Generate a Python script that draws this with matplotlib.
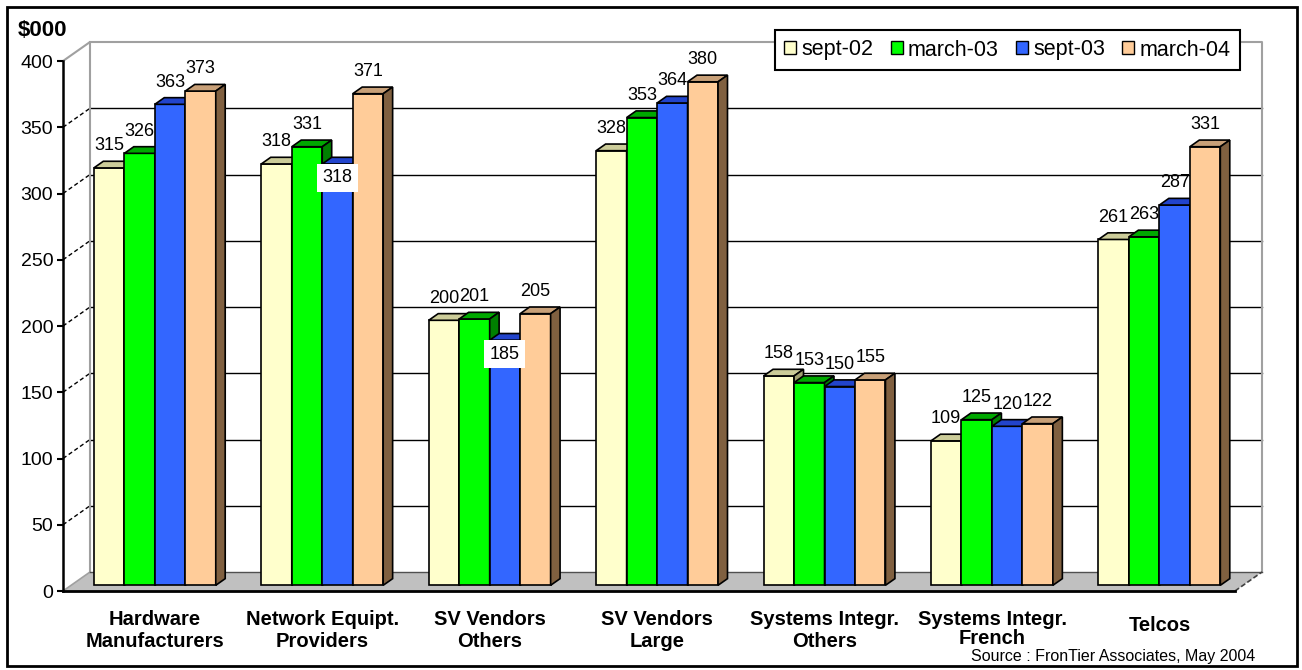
import numpy as np
import matplotlib
matplotlib.use('Agg')
import matplotlib.pyplot as plt
from matplotlib.patches import Polygon, Patch, Rectangle

plt.rcParams['font.family'] = ['Liberation Sans', 'DejaVu Sans']

# data
categories = ['Hardware\nManufacturers', 'Network Equipt.\nProviders', 'SV Vendors\nOthers',
              'SV Vendors\nLarge', 'Systems Integr.\nOthers', 'Systems Integr.\nFrench', 'Telcos']
series_names = ['sept-02', 'march-03', 'sept-03', 'march-04']
sept02 = [315, 318, 200, 328, 158, 109, 261]
march03 = [326, 331, 201, 353, 153, 125, 263]
sept03 = [363, 318, 185, 364, 150, 120, 287]
march04 = [373, 371, 205, 380, 155, 122, 331]
yticks = [0, 50, 100, 150, 200, 250, 300, 350, 400]
# labels that sit inside the bar on a white box: (series, group)
inside_labels = [(2, 1), (2, 2)]

values = [sept02, march03, sept03, march04]
front_col = ['#FFFFCC', '#00FF00', '#3366FF', '#FFCC99']
top_col = ['#CCCC99', '#00A800', '#2244CC', '#C8A078']
side_col = ['#A0A070', '#008000', '#1A3399', '#806040']

W, H = 1302, 670
fig = plt.figure(figsize=(W / 100, H / 100), dpi=100)
ax = fig.add_axes([63 / W, 79 / H, 1172 / W, 530 / H])
x0, x1 = -0.5, 6.5
ax.set_xlim(x0, x1)
ax.set_ylim(0, 400)

# depth of the 3d box in data units
DX = 27 / (1172 / 7)
DY = 19 / (530 / 400)
f0, fd = 0.3, 0.35   # bar front depth, bar thickness
bw = 0.182

# back wall + floor
ax.add_patch(Polygon([(x0, 0), (x1, 0), (x1 + DX, DY), (x0 + DX, DY)], closed=True,
                     fc='#C0C0C0', ec='none', zorder=1, clip_on=False))
for v in yticks[1:-1]:
    ax.plot([x0 + DX, x1 + DX], [v + DY, v + DY], color='black', lw=1, zorder=1, clip_on=False)
    ax.plot([x0, x0 + DX], [v, v + DY], color='black', lw=1, ls=(0, (3, 2)), zorder=1, clip_on=False)
gray = '#A0A0A0'
ax.plot([x0 + DX, x1 + DX, x1 + DX], [400 + DY, 400 + DY, DY], color=gray, lw=1.5, zorder=1, clip_on=False)
ax.plot([x0, x0 + DX, x0 + DX], [400, 400 + DY, DY], color=gray, lw=1.5, zorder=1, clip_on=False)
ax.plot([x0, x0 + DX], [0, DY], color=gray, lw=1.2, zorder=1, clip_on=False)
ax.plot([x0 + DX, x1 + DX], [DY, DY], color='#505050', lw=1, zorder=1, clip_on=False)
ax.plot([x1, x1 + DX], [0, DY], color='#404040', lw=1.2, ls=(0, (3, 1.5)), zorder=1, clip_on=False)

# bars
bdx, bdy = fd * DX, fd * DY
b = f0 * DY
for i in range(len(categories)):
    for j in range(4):
        v = values[j][i]
        xl = i - 2 * bw + j * bw + f0 * DX
        z = 3 + i * 4 + j
        ax.add_patch(Polygon([(xl, b), (xl + bw, b), (xl + bw, b + v), (xl, b + v)],
                             fc=front_col[j], ec='black', lw=1.2, zorder=z, clip_on=False))
        ax.add_patch(Polygon([(xl, b + v), (xl + bw, b + v), (xl + bw + bdx, b + v + bdy), (xl + bdx, b + v + bdy)],
                             fc=top_col[j], ec='black', lw=1.2, zorder=z, clip_on=False))
        ax.add_patch(Polygon([(xl + bw, b), (xl + bw + bdx, b + bdy), (xl + bw + bdx, b + v + bdy), (xl + bw, b + v)],
                             fc=side_col[j], ec='black', lw=1.2, zorder=z, clip_on=False))
        if (j, i) in inside_labels:
            ax.annotate(str(v), xy=(xl + bw / 2, b + v), xytext=(0, -10), textcoords='offset points',
                        ha='center', va='center', fontsize=13, zorder=60,
                        bbox=dict(boxstyle='square,pad=0.3', fc='white', ec='none'))
        else:
            ax.annotate(str(v), xy=(xl + bw / 2, b + v + bdy), xytext=(0, 5),
                        textcoords='offset points', ha='center', va='bottom', fontsize=13, zorder=60)

# axes styling
for s in ['top', 'right']:
    ax.spines[s].set_visible(False)
ax.spines['left'].set_linewidth(1.8)
ax.spines['bottom'].set_linewidth(2)
ax.spines['left'].set_zorder(70)
ax.spines['bottom'].set_zorder(70)
ax.set_yticks(yticks)
ax.set_yticklabels([str(t) for t in yticks])
ax.tick_params(axis='y', direction='out', length=4, width=1.5, labelsize=14, pad=3)
ax.set_xticks([])
ax.patch.set_visible(False)

for i, cat in enumerate(categories):
    off = -14 if '\n' in cat else -18
    # the French label is set tighter so it clears the source line
    ls = 0.95 if cat.endswith('French') else 1.2
    ax.annotate(cat, xy=(i + 0.05, 0), xytext=(0, off), textcoords='offset points',
                ha='center', va='top', fontsize=14.5, fontweight='bold', linespacing=ls)

handles = [Patch(fc=front_col[j], ec='black', lw=1) for j in range(4)]
leg = fig.legend(handles, series_names, ncol=4, loc='center',
                 bbox_to_anchor=((775 + 1240) / 2 / W, 1 - 50 / H), fontsize=15.5,
                 frameon=True, fancybox=False, edgecolor='black', framealpha=1,
                 handlelength=0.55, handleheight=0.55, handletextpad=0.25, columnspacing=0.8,
                 borderpad=0.45)
leg.get_frame().set_linewidth(1.5)

fig.text(18 / W, 1 - 30 / H, r'\$000', fontsize=16, fontweight='bold', va='center', ha='left')
fig.text(1255 / W, 1 - 656 / H, 'Source : FronTier Associates, May 2004', fontsize=11.5,
         ha='right', va='center')
fig.add_artist(Rectangle((7 / W, 4 / H), 1290 / W, 659 / H, transform=fig.transFigure,
                         fill=False, lw=2, ec='black'))

fig.savefig('out.png', dpi=100)
